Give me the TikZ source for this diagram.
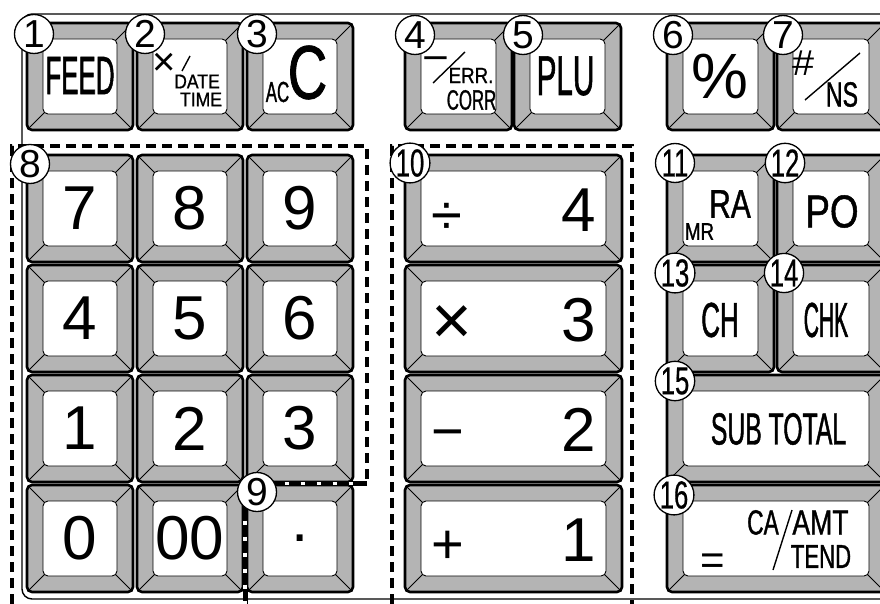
\documentclass[tikz,border=0pt]{standalone}
\usepackage{fontspec}
\setmainfont{Liberation Sans}
\usepackage{tikz}
\usetikzlibrary{calc}
\definecolor{keygray}{RGB}{180,180,180}
\newcommand{\keytext}[4][1]{\fontsize{#2}{#2}\selectfont\addfontfeatures{FakeStretch=#3,FakeBold=#1}#4}
% one key: name, left, top, width, height
\newcommand{\keycap}[5]{%
  \draw[keybody] (#2,#3) rectangle ++(#4,#5);
  \draw[keyface] (#2+16,#3+16) rectangle (#2+#4-16,#3+#5-16);
  \draw[bevel] (#2+1.5,#3+1.5) -- (#2+17.5,#3+17.5)
               (#2+#4-1.5,#3+1.5) -- (#2+#4-17.5,#3+17.5)
               (#2+1.5,#3+#5-1.5) -- (#2+17.5,#3+#5-17.5)
               (#2+#4-1.5,#3+#5-1.5) -- (#2+#4-17.5,#3+#5-17.5);
  \coordinate (#1) at (#2+#4/2,#3+#5/2);
}
\tikzset{
  keybody/.style={draw=black,line width=2.6,fill=keygray,rounded corners=5},
  keyface/.style={draw=black,line width=0.9,fill=white,rounded corners=5},
  bevel/.style={line width=0.8},
  legend/.style={inner sep=0pt},
  digit/.style={inner sep=0pt,font=\fontsize{62}{62}\selectfont},
  badge/.style={circle,draw=black,line width=1.3,fill=white,
                minimum size=39,inner sep=0pt},
  slashline/.style={line width=1.4},
  grpdash/.style={line width=4.2,dash pattern=on 10 off 6},
  frameline/.style={line width=1.4,rounded corners=10},
}

\begin{document}
\begin{tikzpicture}[x=1pt, y=-1pt]
\useasboundingbox (0,0) rectangle (880,604);
\clip (0,0) rectangle (880,604);

% outer frame
\draw[frameline] (22,14) rectangle (900,599);

% key groups
\draw[grpdash] (12,604) -- (12,146) -- (367,146) -- (367,483.5);
\draw[grpdash] (392,604) -- (392,146) -- (632,146) -- (632,604);

% top row
\keycap{kfeed}{27}{23}{106}{107}
\keycap{kdate}{137}{23}{106}{107}
\keycap{kac}{247}{23}{106}{107}
\keycap{kcorr}{405}{23}{107}{107}
\keycap{kplu}{514}{23}{107}{107}
\keycap{kpct}{667}{23}{107}{107}
\keycap{kns}{777}{23}{108}{107}

% ten-key block
\foreach \k/\x/\y in {k7/27/155,k8/137/155,k9/247/155,
                      k4/27/265,k5/137/265,k6/247/265,
                      k1/27/375,k2/137/375,k3/247/375,
                      k0/27/485,k00/137/485,kdot/247/485}
  {\keycap{\k}{\x}{\y}{106}{107}}

% department keys
\keycap{kdiv}{405}{155}{217}{107}
\keycap{kmul}{405}{265}{217}{107}
\keycap{ksub}{405}{375}{217}{107}
\keycap{kadd}{405}{485}{217}{107}

% function keys
\keycap{kra}{667}{155}{107}{107}
\keycap{kpo}{777}{155}{108}{107}
\keycap{kch}{667}{265}{107}{107}
\keycap{kchk}{777}{265}{108}{107}
\keycap{kst}{667}{375}{218}{107}
\keycap{kca}{667}{485}{218}{107}

% key 9 marker line
\draw[line width=5] (367,483.5) -- (245,483.5) -- (245,604);
\draw[white,line width=3.6,dash pattern=on 4.5 off 11.5]
  (284.5,483.5) -- (362,483.5) (245,520.5) -- (245,604);

% top row legends
\node[legend] (tfeed) at (80,75.5) {\keytext{54}{0.48}{FEED}};
\node[legend,anchor=base] (ttimes) at (164.5,76) {\keytext[0]{40}{1}{×}};
\draw[slashline] (182,71) -- (190,56);
\node[legend] (tdate) at (197,81.5) {\keytext{20}{0.88}{DATE}};
\node[legend] (ttime) at (201,99.5) {\keytext{20}{0.88}{TIME}};
\node[legend] (tac) at (277.5,92) {\keytext{29}{0.58}{AC}};
\node[legend] (tc) at (307.5,72.5) {\keytext{76}{0.72}{C}};
\node[legend,anchor=base] (tminus) at (436,72) {\keytext[0]{40}{1.15}{−}};
\draw[slashline] (433,83) -- (465,52);
\node[legend] (terr) at (471,75.5) {\keytext{22}{0.85}{ERR.}};
\node[legend] (tcorr) at (471.5,100) {\keytext{28}{0.6}{CORR}};
\node[legend] (tplu) at (565.5,76) {\keytext{56}{0.53}{PLU}};
\node[legend] (tpct) at (720,76.5) {\keytext[0]{64}{1}{\%}};
\node[legend] (thash) at (803,63) {\keytext[0]{36}{1.1}{\#}};
\draw[slashline] (805,100) -- (860,53);
\node[legend] (tns) at (842,94.5) {\keytext{35}{0.66}{NS}};

% digits
\foreach \k/\d in {k7/7,k8/8,k9/9,k4/4,k5/5,k6/6,k1/1,k2/2,k3/3,k0/0,k00/00}
  {\node[digit] (t\k) at (\k) {\d};}
\node[legend] (tdot) at (kdot) {\keytext[0]{62}{1}{.}};

% department legends
\foreach \op/\d/\s/\b/\y in {÷/4/56/234.5/231.5,×/3/70/344/341.5,
                            −/2/56/450.5/451.5,+/1/56/563.5/561.5} {
  \node[legend,anchor=base west] (op\d) at (431,\b) {\keytext[0]{\s}{1}{\op}};
  \node[digit,anchor=base east] (dp\d) at (596,\y) {\d};
}

% function legends
\node[legend] (tmr) at (699.5,231.5) {\keytext{24}{0.78}{MR}};
\node[legend] (tra) at (730,204) {\keytext{40}{0.75}{RA}};
\node[legend] (tpo) at (832,211.5) {\keytext{46}{0.8}{PO}};
\node[legend] (tch) at (720,320) {\keytext{49}{0.53}{CH}};
\node[legend] (tchk) at (826,320) {\keytext{49}{0.43}{CHK}};
\node[legend] (tsub) at (778.5,429) {\keytext{45}{0.55}{SUB TOTAL}};
\node[legend,anchor=base] (teq) at (713,574) {\keytext[0]{42}{1}{=}};
\node[legend] (tca) at (763,522.5) {\keytext{35}{0.65}{CA}};
\draw[slashline] (773,570) -- (792,510);
\node[legend] (tamt) at (820.5,522.5) {\keytext{35}{0.76}{AMT}};
\node[legend] (ttend) at (821,556.5) {\keytext{33}{0.67}{TEND}};

% circled numbers
\foreach \n/\x/\y in {1/34/34,2/145/34,3/257/34,4/415/35,5/523/35,
                      6/673/35,7/783/35,8/30/164,9/257/492}
  {\node[badge] (n\n) at (\x,\y) {\keytext[0]{39}{1}{\n}};}
\foreach \n/\x/\y in {10/410/163,11/675/163,12/785/163,13/675/273,
                      14/784/273,15/675/381,16/674/495}
  {\node[badge] (n\n) at (\x,\y) {\keytext[0.5]{39}{0.66}{\n}};}
\end{tikzpicture}
\end{document}
